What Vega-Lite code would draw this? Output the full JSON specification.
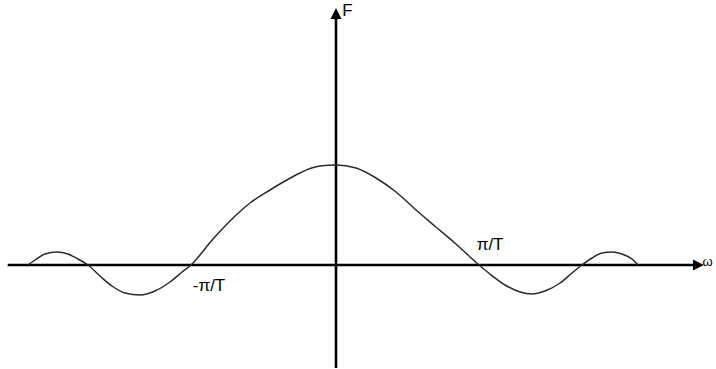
{
  "$schema": "https://vega.github.io/schema/vega-lite/v6.json",
  "width": 716,
  "height": 369,
  "autosize": "none",
  "padding": 0,
  "background": "white",
  "config": {"view": {"stroke": null}, "font": "Liberation Sans"},
  "datasets": {
    "spectrum": [
      {"w": -2.139, "F": 0.0},
      {"w": -2.090, "F": 0.05},
      {"w": -2.021, "F": 0.11},
      {"w": -1.938, "F": 0.13},
      {"w": -1.861, "F": 0.11},
      {"w": -1.792, "F": 0.06},
      {"w": -1.722, "F": 0.0},
      {"w": -1.639, "F": -0.11},
      {"w": -1.556, "F": -0.21},
      {"w": -1.465, "F": -0.28},
      {"w": -1.361, "F": -0.30},
      {"w": -1.257, "F": -0.26},
      {"w": -1.153, "F": -0.17},
      {"w": -1.069, "F": -0.07},
      {"w": -1.007, "F": 0.0},
      {"w": -0.854, "F": 0.26},
      {"w": -0.715, "F": 0.47},
      {"w": -0.597, "F": 0.62},
      {"w": -0.458, "F": 0.75},
      {"w": -0.354, "F": 0.84},
      {"w": -0.250, "F": 0.92},
      {"w": -0.181, "F": 0.965},
      {"w": -0.111, "F": 0.99},
      {"w": 0.0, "F": 1.0},
      {"w": 0.139, "F": 0.97},
      {"w": 0.278, "F": 0.87},
      {"w": 0.417, "F": 0.73},
      {"w": 0.556, "F": 0.55},
      {"w": 0.694, "F": 0.38},
      {"w": 0.833, "F": 0.21},
      {"w": 0.993, "F": 0.0},
      {"w": 1.069, "F": -0.09},
      {"w": 1.174, "F": -0.20},
      {"w": 1.278, "F": -0.27},
      {"w": 1.361, "F": -0.29},
      {"w": 1.451, "F": -0.26},
      {"w": 1.556, "F": -0.18},
      {"w": 1.639, "F": -0.08},
      {"w": 1.708, "F": 0.0},
      {"w": 1.778, "F": 0.07},
      {"w": 1.847, "F": 0.12},
      {"w": 1.917, "F": 0.13},
      {"w": 1.986, "F": 0.11},
      {"w": 2.056, "F": 0.06},
      {"w": 2.097, "F": 0.0}
    ],
    "labels": [
      {"w": 0.08, "F": 2.54, "text": "F", "align": "left", "size": 17},
      {"w": 1.07, "F": 0.20, "text": "π/T", "align": "center", "size": 17},
      {"w": -0.882, "F": -0.21, "text": "-π/T", "align": "center", "size": 17},
      {"w": 2.58, "F": 0.03, "text": "ω", "align": "left", "size": 13}
    ]
  },
  "encoding": {
    "x": {"type": "quantitative", "scale": {"domain": [-2.3333, 2.6389], "nice": false, "zero": false}, "axis": null},
    "y": {"type": "quantitative", "scale": {"domain": [-1.04, 2.65], "nice": false, "zero": false}, "axis": null}
  },
  "layer": [
    {
      "description": "horizontal ω axis",
      "data": {"values": [{"w0": -2.28, "w1": 2.52, "F": 0}]},
      "mark": {"type": "rule", "color": "black", "strokeWidth": 2.6},
      "encoding": {"x": {"field": "w0"}, "x2": {"field": "w1"}, "y": {"field": "F"}}
    },
    {
      "description": "vertical F axis",
      "data": {"values": [{"w": 0, "F0": -1.03, "F1": 2.5}]},
      "mark": {"type": "rule", "color": "black", "strokeWidth": 2.6},
      "encoding": {"x": {"field": "w"}, "y": {"field": "F0"}, "y2": {"field": "F1"}}
    },
    {
      "description": "arrowhead of the F axis",
      "data": {"values": [{"w": 0, "F": 2.57}]},
      "mark": {"type": "point", "shape": "M0,0L0.55,1.1L-0.55,1.1Z", "size": 400, "filled": true, "color": "black", "opacity": 1},
      "encoding": {"x": {"field": "w"}, "y": {"field": "F"}}
    },
    {
      "description": "arrowhead of the ω axis",
      "data": {"values": [{"w": 2.555, "F": 0}]},
      "mark": {"type": "point", "shape": "M0,0L-1.1,-0.55L-1.1,0.55Z", "size": 400, "filled": true, "color": "black", "opacity": 1},
      "encoding": {"x": {"field": "w"}, "y": {"field": "F"}}
    },
    {
      "data": {"name": "spectrum"},
      "mark": {"type": "line", "color": "#2a2a2a", "strokeWidth": 1.5, "interpolate": "monotone"},
      "encoding": {"x": {"field": "w"}, "y": {"field": "F"}}
    },
    {
      "data": {"name": "labels"},
      "mark": {"type": "text", "baseline": "middle", "color": "black"},
      "encoding": {
        "x": {"field": "w"},
        "y": {"field": "F"},
        "text": {"field": "text"},
        "size": {"field": "size", "type": "quantitative", "scale": null},
        "align": {"field": "align", "type": "nominal", "scale": null}
      }
    }
  ]
}
